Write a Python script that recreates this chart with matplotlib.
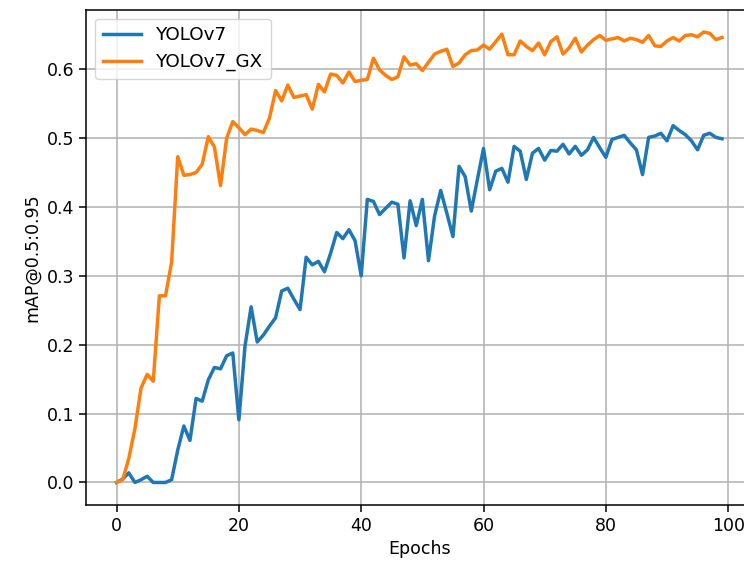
import matplotlib
matplotlib.use("Agg")
import matplotlib.pyplot as plt
import numpy as np

epochs = list(range(100))

yolov7 = [
    0.000, 0.005, 0.014, 0.000, 0.004, 0.009, 0.000, 0.000, 0.000, 0.004,
    0.047, 0.082, 0.061, 0.122, 0.118, 0.149, 0.167, 0.165, 0.184, 0.188,
    0.091, 0.198, 0.255, 0.204, 0.214, 0.227, 0.239, 0.278, 0.282, 0.266,
    0.251, 0.327, 0.316, 0.321, 0.306, 0.333, 0.363, 0.354, 0.367, 0.351,
    0.300, 0.411, 0.408, 0.389, 0.398, 0.407, 0.404, 0.326, 0.409, 0.373,
    0.411, 0.322, 0.387, 0.424, 0.391, 0.357, 0.459, 0.444, 0.394, 0.440,
    0.485, 0.425, 0.452, 0.456, 0.436, 0.488, 0.481, 0.440, 0.478, 0.485,
    0.468, 0.482, 0.481, 0.491, 0.477, 0.488, 0.475, 0.483, 0.501, 0.486,
    0.472, 0.498, 0.501, 0.504, 0.493, 0.483, 0.447, 0.501, 0.503, 0.507,
    0.496, 0.518, 0.511, 0.505, 0.496, 0.483, 0.504, 0.507, 0.501, 0.499,
]

yolov7_gx = [
    0.000, 0.004, 0.035, 0.078, 0.137, 0.157, 0.147, 0.271, 0.271, 0.320,
    0.473, 0.446, 0.447, 0.450, 0.462, 0.502, 0.487, 0.431, 0.500, 0.524,
    0.515, 0.505, 0.513, 0.511, 0.508, 0.529, 0.569, 0.554, 0.577, 0.559,
    0.561, 0.563, 0.542, 0.578, 0.567, 0.593, 0.591, 0.580, 0.596, 0.582,
    0.584, 0.585, 0.616, 0.599, 0.591, 0.585, 0.589, 0.618, 0.606, 0.608,
    0.598, 0.610, 0.622, 0.626, 0.629, 0.604, 0.609, 0.621, 0.627, 0.628,
    0.635, 0.629, 0.640, 0.651, 0.621, 0.621, 0.641, 0.633, 0.627, 0.638,
    0.621, 0.640, 0.647, 0.622, 0.631, 0.645, 0.625, 0.635, 0.643, 0.649,
    0.642, 0.644, 0.646, 0.641, 0.645, 0.643, 0.639, 0.649, 0.634, 0.633,
    0.641, 0.646, 0.641, 0.649, 0.650, 0.647, 0.654, 0.652, 0.643, 0.646,
]

plt.rcParams["font.size"] = 12.5
plt.rcParams["xtick.major.size"] = 5
plt.rcParams["ytick.major.size"] = 5
plt.rcParams["xtick.major.width"] = 1.1
plt.rcParams["ytick.major.width"] = 1.1
plt.rcParams["axes.linewidth"] = 1.1
plt.rcParams["grid.linewidth"] = 1.1

fig = plt.figure(figsize=(7.44, 5.62), dpi=100)
ax = fig.add_axes([86.3 / 744, 57 / 562, 666 / 744, 495.5 / 562])
ax.plot(epochs, yolov7, color="#1f77b4", lw=2.5, label="YOLOv7")
ax.plot(epochs, yolov7_gx, color="#ff7f0e", lw=2.5, label="YOLOv7_GX")
ax.set_xlabel("Epochs")
ax.set_ylabel("mAP@0.5:0.95")
ax.grid(True)
ax.legend(loc="upper left", fontsize=13.2, handlelength=2.1)
fig.savefig("out.png", dpi=100)
